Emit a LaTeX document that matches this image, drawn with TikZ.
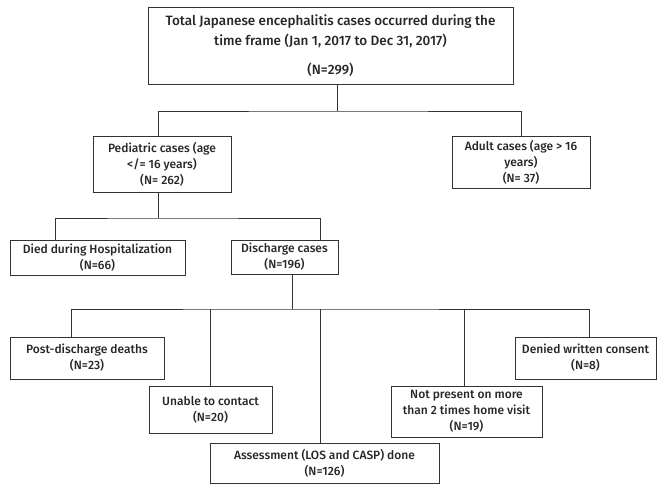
\documentclass[tikz,border=0pt]{standalone}
\usepackage{fontspec}
\setmainfont{Fira Sans}[UprightFont=* Medium]
\usetikzlibrary{positioning}
\tikzset{bx/.style={draw=black!80,line width=0.9pt,align=center,inner sep=1pt,text=black!85,font=\fontsize{12}{16}\selectfont},ln/.style={draw=black!80,line width=0.9pt}}

\begin{document}
\begin{tikzpicture}[x=1pt,y=-1pt]
\useasboundingbox (0,0) rectangle (657,483);
\node[bx,minimum width=365pt,minimum height=77pt,font=\fontsize{13.5}{20}\selectfont](top)at(330.5,45.5){Total Japanese encephalitis cases occurred during the\\time frame (Jan 1, 2017 to Dec 31, 2017)\\[9pt](N=299)};
\node[bx,minimum width=138pt,minimum height=56pt](ped)at(162,164){Pediatric cases (age\\</= 16 years)\\(N= 262)};
\node[bx,minimum width=138pt,minimum height=52pt](adult)at(521,162){Adult cases (age > 16\\years)\\(N= 37)};
\node[bx,minimum width=175pt,minimum height=35pt](died)at(97.5,257.5){Died during Hospitalization\\(N=66)};
\node[bx,minimum width=107pt,minimum height=34pt](disch)at(284.5,257){Discharge cases\\(N=196)};
\node[bx,minimum width=154pt,minimum height=42pt](post)at(87,358){Post-discharge deaths\\(N=23)};
\node[bx,minimum width=123pt,minimum height=47pt](unable)at(210.5,409.5){Unable to contact\\(N=20)};
\node[bx,minimum width=229pt,minimum height=40pt](assess)at(324.5,463){Assessment (LOS and CASP) done\\(N=126)};
\node[bx,minimum width=151pt,minimum height=51pt](notpres)at(466.5,411.5){Not present on more\\than 2 times home visit\\(N=19)};
\node[bx,minimum width=141pt,minimum height=42pt](denied)at(585.5,358){Denied written consent\\(N=8)};
% branches
\coordinate(b1)at(337,111);\coordinate(b2)at(158,218);\coordinate(b3)at(292,309);
\draw[ln](top.south -| b1)--(b1);\draw[ln]([xshift=-4pt]ped.north)|-(b1)-|(adult.north);
\draw[ln]([xshift=-4pt]ped.south)--(b2);\draw[ln]([xshift=-42.5pt]died.north)|-(b2)-|([xshift=35.5pt]disch.north);
\draw[ln]([xshift=7.5pt]disch.south)--(b3);\draw[ln]([xshift=-16pt]post.north)|-(b3)-|([xshift=3.5pt]denied.north);
\draw[ln](unable.north)--(unable.north |- b3);\draw[ln]([xshift=-4.5pt]assess.north)--([xshift=-4.5pt]assess.north |- b3);
\draw[ln]([xshift=-2.5pt]notpres.north)--([xshift=-2.5pt]notpres.north |- b3);
\end{tikzpicture}
\end{document}
